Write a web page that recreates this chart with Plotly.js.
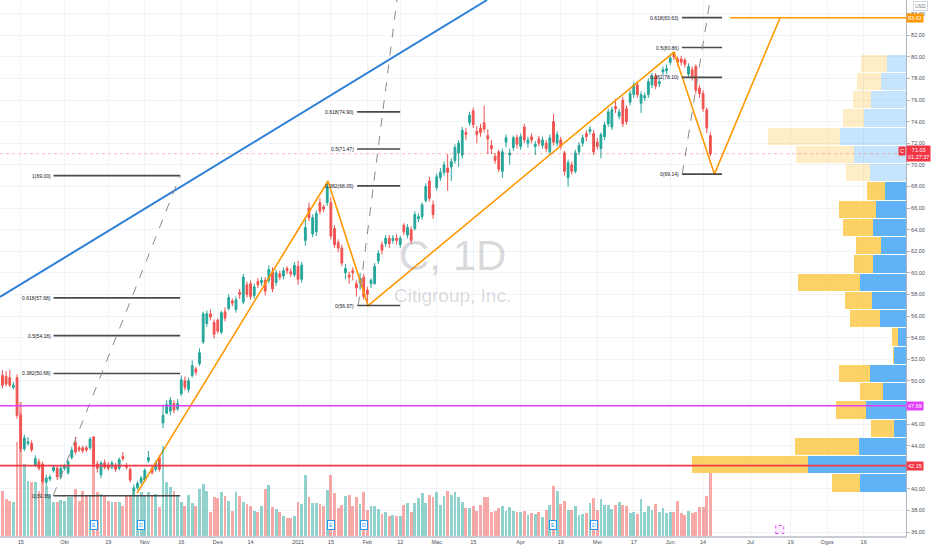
<!DOCTYPE html>
<html><head><meta charset="utf-8">
<script src="https://cdn.plot.ly/plotly-3.0.1.min.js"></script>
<style>html,body{margin:0;padding:0;background:#fff}#chart{width:932px;height:550px}</style>
</head><body><div id="chart"></div>
<script>
// Daily bars, 8 Sep 2020 .. 16 Jun 2021 (bar index = trading day)
const opens = [50.5,50.4,50.3,49.4,50.3,46.8,43.7,44.2,44.2,42.2,42.5,42.3,40.6,40.9,41.7,41.9,41.1,41.9,41.5,42.9,
44.3,43.8,43.8,43.8,43.8,44.8,42.3,41.3,42.4,42.2,42.0,42.2,41.9,43.0,42.1,41.8,39.8,40.1,40.6,40.8,
42.6,41.9,41.8,42.9,46.1,47.0,47.2,47.9,47.4,48.8,50.0,49.2,50.5,51.1,51.6,53.6,55.3,56.2,55.4,55.6,
54.5,56.4,56.7,57.4,56.6,58.2,57.3,58.9,59.0,57.9,59.2,59.1,59.3,59.3,60.1,59.1,59.9,59.7,60.4,60.1,
59.8,60.6,59.4,63.0,66.0,63.6,63.8,66.5,66.1,66.5,66.5,64.1,62.8,62.3,60.0,59.8,60.2,59.0,59.1,59.6,
58.4,59.0,59.0,61.1,62.6,62.7,63.2,63.0,63.2,62.6,64.4,63.5,64.0,64.1,65.0,65.2,66.7,68.5,66.3,67.9,
68.8,69.3,69.7,69.8,70.4,71.1,70.9,73.0,73.9,75.0,73.1,73.4,73.9,72.7,71.8,70.8,71.2,69.4,72.1,70.9,
71.6,72.5,71.7,73.5,72.0,72.6,71.7,72.4,71.8,72.0,71.2,74.0,72.0,72.3,71.1,68.8,70.0,69.4,71.2,72.0,
72.9,73.1,72.9,72.1,71.5,72.6,73.8,73.5,75.4,74.5,76.0,75.2,75.8,76.5,77.4,75.7,76.2,76.5,77.4,78.2,
77.5,78.6,78.7,79.5,80.4,79.8,79.8,79.7,78.4,78.8,79.1,77.1,76.6,75.1,72.7];
const highs = [51.0,50.9,51.0,49.9,50.6,47.0,45.0,44.8,44.5,43.1,42.8,42.5,41.3,41.3,42.2,42.1,42.1,42.3,42.7,43.9,
44.8,44.0,44.0,44.0,44.8,44.9,42.6,42.6,42.7,42.5,42.6,42.4,42.9,43.4,42.4,42.0,40.4,40.7,41.2,41.9,
43.5,42.2,42.6,43.1,47.8,48.2,48.5,48.2,48.3,50.5,50.4,50.3,51.9,51.3,53.0,56.4,56.5,56.6,55.7,55.8,
56.5,56.8,58.0,57.6,57.8,58.5,59.9,59.2,59.3,59.0,59.5,59.6,59.6,60.7,60.5,60.3,60.2,60.5,60.6,60.4,
61.0,61.1,61.0,65.1,66.5,65.4,65.8,66.9,66.3,68.4,67.0,64.4,63.1,62.6,60.8,60.1,60.5,59.3,60.0,59.9,
58.7,59.5,60.9,62.1,62.9,63.5,63.5,63.5,63.6,63.4,64.6,64.5,64.3,65.7,65.5,66.5,68.3,68.9,66.7,69.2,
69.7,70.3,71.0,70.6,71.9,72.3,73.5,73.4,74.9,75.3,73.6,73.8,75.5,73.3,72.3,71.1,71.4,71.5,72.8,71.5,
72.7,72.8,72.9,73.8,72.6,72.9,72.2,72.7,72.6,72.3,72.8,74.7,73.1,72.6,71.3,70.5,70.3,71.4,72.1,72.8,
73.2,73.6,73.2,72.5,73.0,74.0,75.2,75.4,76.1,75.2,76.3,75.5,76.9,77.7,77.7,76.8,76.7,78.0,78.5,78.5,
78.0,79.1,79.3,80.2,80.45,80.0,80.1,79.9,79.4,79.1,79.3,77.4,76.9,75.3,73.0];
const lows = [49.3,49.5,49.4,49.2,46.5,43.4,43.5,44.0,43.4,42.0,41.7,40.5,40.3,40.7,41.5,40.8,40.9,41.7,41.3,42.7,
43.2,43.4,43.3,43.4,43.6,42.0,41.5,41.0,41.8,41.7,41.8,41.6,41.7,42.6,41.8,40.6,39.36,39.9,40.4,40.6,
42.4,41.3,41.6,41.6,45.6,46.9,46.8,47.0,47.2,48.6,49.1,48.9,50.3,50.5,51.4,53.4,55.0,55.6,53.9,54.4,
54.3,55.5,56.5,56.9,56.3,57.6,57.1,57.7,57.5,57.6,58.6,58.8,57.9,59.0,58.2,58.8,59.3,59.4,59.9,59.6,
59.6,58.9,59.1,62.5,64.8,63.3,63.4,65.4,65.6,66.2,63.1,62.3,61.9,60.6,59.4,59.0,59.3,57.8,58.4,57.5,
56.97,58.6,58.9,60.8,61.7,62.4,62.3,62.7,62.6,62.3,63.5,63.2,62.7,63.9,64.7,64.9,66.5,66.6,65.0,67.6,
68.5,69.0,67.6,68.5,70.1,69.8,70.6,72.3,73.6,73.4,72.0,72.6,73.0,71.0,71.0,70.1,69.3,68.8,71.6,70.0,
71.3,71.5,71.4,72.0,71.6,72.0,70.9,71.7,71.5,71.2,70.9,71.8,71.7,71.4,69.0,68.0,69.1,69.2,70.9,71.7,
72.2,72.8,70.9,71.4,70.6,72.3,73.5,73.2,74.8,74.2,73.5,73.7,75.5,76.2,76.2,74.8,75.9,76.2,77.1,77.0,
77.2,78.3,78.4,79.2,79.7,79.2,79.2,79.0,78.1,77.8,76.6,76.2,74.9,72.9,70.8];
const closes = [49.6,49.7,49.6,49.6,46.8,43.7,44.7,44.35,43.6,42.8,41.9,40.7,41.0,41.1,42.0,41.1,41.9,42.1,42.5,43.6,
43.4,43.6,43.5,43.6,44.6,42.3,41.9,42.4,42.0,41.9,42.4,41.8,42.7,42.8,42.0,40.8,40.1,40.5,41.0,41.7,
42.9,41.5,42.4,41.8,46.8,47.8,48.2,47.3,47.9,50.1,49.4,50.0,51.4,50.8,52.6,56.2,56.2,55.9,54.3,54.6,
56.3,55.8,57.7,57.2,57.5,58.0,59.6,58.0,57.8,58.7,58.9,59.3,58.3,60.3,58.5,60.0,59.6,60.2,60.2,59.9,
60.7,59.4,60.7,64.2,65.1,65.1,65.5,65.7,65.9,68.0,63.4,62.6,62.3,60.9,60.4,59.6,60.0,58.6,59.5,57.8,
58.0,59.3,60.6,61.8,62.1,63.2,62.7,63.2,63.0,63.2,63.8,64.2,63.0,65.4,65.2,66.3,68.0,66.9,65.4,68.9,
69.3,70.0,69.3,70.3,71.6,72.0,73.2,72.8,74.6,73.7,72.8,73.0,73.3,72.4,71.5,70.4,69.6,71.2,72.5,71.1,
72.5,71.9,72.6,72.3,72.3,72.3,71.9,72.0,72.3,71.5,72.5,72.1,72.8,71.7,69.4,70.2,69.4,71.1,71.8,72.5,
72.6,73.3,71.2,71.7,72.8,73.7,74.9,75.1,75.2,74.9,73.8,74.0,76.6,77.4,76.5,76.5,76.4,77.7,78.2,77.3,
77.7,78.8,78.9,79.9,80.0,79.5,79.5,79.3,79.1,78.2,76.9,76.6,75.2,73.4,71.03];
// volume, million shares
const volumes = [45,37,35,34,94,134,72,55,54,54,45,62,50,42,34,34,36,35,39,39,
47,35,45,40,40,90,44,42,40,35,34,34,34,30,40,40,45,40,44,40,
44,41,42,29,90,54,49,45,40,34,30,41,33,30,47,52,45,24,39,38,
44,40,35,25,44,40,34,32,30,25,24,30,47,51,29,27,24,20,18,18,
20,34,32,61,39,33,33,32,30,46,61,43,28,31,40,41,30,39,32,44,
26,30,30,27,22,24,20,21,20,20,31,33,24,33,38,43,33,41,39,44,
31,40,45,41,44,39,34,28,28,30,25,31,39,39,24,25,28,30,25,29,
25,24,24,25,21,23,22,24,19,26,31,50,45,32,35,26,26,30,21,22,
23,33,38,26,37,31,31,27,31,34,31,30,23,24,22,37,24,30,26,32,
24,28,23,24,24,35,23,21,25,23,24,29,29,40,63];

const tickIdx  = [5,17,29,39,49,59,68,81,90,100,109,119,129,142,153,163,173,183,192,205,216,226,236];
const tickText = ['15','Okt','19','Nov','16','Des','14','2021','15','Feb','12','Mac','15','Apr','19','Mei','17','Jun','14','Jul','19','Ogos','16'];
// 42.00 and 48.00 sit under the red and magenta level labels
const priceTicks = [36,38,40,44,46,50,52,54,56,58,60,62,64,66,68,70,72,74,76,78,80,82,84];

// visible-range volume profile (rows top -> bottom)
const profilePrice = [79.41,77.72,76.03,74.34,72.65,70.96,69.27,67.58,65.89,64.20,62.50,60.81,59.12,57.43,55.74,54.05,52.36,50.67,48.98,47.29,45.60,43.91,42.22,40.53];
const profileUp    = [19,25,35,42,66,52,36,21,30,33,25,33,46,34,26,8,12,36,23,40,12,47,98,46];
const profileDown  = [26,24,18,21,72,58,24,18,37,30,25,19,62,27,30,6,1.5,31,23,30,23,64,116,28];
const profileInValueArea = [0,0,0,0,0,0,0,1,1,1,1,1,1,1,1,1,1,1,1,1,1,1,1,1];

// drawings (bar index, price)
const trendLine = {x:[-0.67,132.8], y:[57.76,85.26]};
const zigzag = {x:[36.9,89.2,100.2,184.0,195.1,213.1], y:[39.6,68.5,56.97,80.44,69.14,83.62]};
const fibA = {x0:14.0, x1:48.7, levels:[1,0.618,0.5,0.382,0], prices:[69.00,57.68,54.18,50.68,39.36], dash:[13.9,39.36,48.7,69.0]};
const fibB = {x0:97.2, x1:109.0, levels:[0.618,0.5,0.382,0], prices:[74.90,71.47,68.05,56.97], dash:[97.5,56.97,108.1,85.26]};
const fibC = {x0:186.2, x1:197.2, levels:[0.618,0.5,0.382,0], prices:[83.63,80.86,78.10,69.14], dash:[186.3,69.14,193.9,85.26]};
const targetLevel = {x0:199.4, price:83.62};
const magentaLevel = 47.69, redLevel = 42.15, lastPrice = 71.03;
const earningsIdx = [25,90,151], dividendIdx = [38,99,162], nextEarningsIdx = 213;

const idx = closes.map((_,i)=>i);
const UP='#26a69a', DN='#ef5350';
const volColors = closes.map((c,i)=> c>=opens[i] ? 'rgba(38,166,154,0.5)' : 'rgba(239,83,80,0.5)');

const traces = [
 {type:'bar', x:idx, y:volumes, yaxis:'y2', marker:{color:volColors, line:{width:0}}, width:0.78, hoverinfo:'skip'},
 {type:'bar', orientation:'h', x:profileUp, y:profilePrice, xaxis:'x2', width:1.6,
  marker:{color:profileInValueArea.map(v=>v?'rgba(33,150,243,0.72)':'rgba(33,150,243,0.26)'), line:{width:0}}, hoverinfo:'skip'},
 {type:'bar', orientation:'h', x:profileDown, y:profilePrice, xaxis:'x2', width:1.6,
  marker:{color:profileInValueArea.map(v=>v?'rgba(251,192,45,0.72)':'rgba(251,192,45,0.28)'), line:{width:0}}, hoverinfo:'skip'},
 {type:'candlestick', x:idx, open:opens, high:highs, low:lows, close:closes,
  increasing:{line:{color:UP,width:1}, fillcolor:UP}, decreasing:{line:{color:DN,width:1}, fillcolor:DN},
  whiskerwidth:0, hoverinfo:'skip'},
 {type:'scatter', mode:'lines', x:zigzag.x, y:zigzag.y, line:{color:'#ff9800', width:1.6}, hoverinfo:'skip'}
];

const shapes = [];
const annotations = [];
const line = (x0,y0,x1,y1,color,width,dash)=>shapes.push({type:'line',xref:'x',yref:'y',x0,y0,x1,y1,line:{color,width,dash:dash||'solid'},layer:'above'});

line(-0.67,lastPrice,247.6,lastPrice,'rgba(242,54,69,0.35)',1,'dot');
line(trendLine.x[0],trendLine.y[0],trendLine.x[1],trendLine.y[1],'#2b7fd6',2);
[fibA,fibB,fibC].forEach(f=>{
  f.levels.forEach((lv,k)=>{
    line(f.x0,f.prices[k],f.x1,f.prices[k],'#4a4a4a',1.6);
    annotations.push({xref:'x',yref:'y',x:f.x0,y:f.prices[k],xanchor:'right',yanchor:'middle',xshift:-1,
      text:lv+'('+f.prices[k].toFixed(2)+')',showarrow:false,font:{size:5,color:'#131722',family:'Liberation Sans, Arial'}});
  });
  line(f.dash[0],f.dash[1],f.dash[2],f.dash[3],'#8a8a8a',1,'dash');
});
line(targetLevel.x0,targetLevel.price,247.6,targetLevel.price,'#ff9800',1.6);
line(-0.67,magentaLevel,247.6,magentaLevel,'#e040fb',1.4);
line(-0.67,redLevel,247.6,redLevel,'#f23645',1.8);

// price-axis labels
const axLabel=(price,text,bg,extra)=>annotations.push(Object.assign({xref:'paper',yref:'y',x:1,y:price,xanchor:'left',yanchor:'middle',
  text,showarrow:false,bgcolor:bg,borderpad:1,font:{size:5.5,color:'#ffffff',family:'Liberation Sans, Arial'}},extra||{}));
axLabel(targetLevel.price,'83.62','#ff9800');
axLabel(lastPrice,'71.03<br>01:27:37','#f23645');
axLabel(magentaLevel,'47.69','#e040fb');
axLabel(redLevel,'42.15','#f23645');
annotations.push({xref:'paper',yref:'y',x:1,y:lastPrice+0.25,xanchor:'right',yanchor:'middle',text:'C',showarrow:false,
  bgcolor:'#f23645',borderpad:1,font:{size:5.5,color:'#fff',family:'Liberation Sans, Arial'}});
annotations.push({xref:'paper',yref:'paper',x:1.008,y:0.988,xanchor:'left',yanchor:'middle',text:'USD',showarrow:false,
  bordercolor:'#d1d4dc',borderwidth:1,borderpad:1,bgcolor:'#fff',font:{size:5,color:'#787b86',family:'Liberation Sans, Arial'}});

// watermark
annotations.push({xref:'paper',yref:'paper',x:0.499,y:0.524,text:'C, 1D',showarrow:false,
  font:{size:42,color:'rgba(120,123,134,0.28)',family:'Liberation Sans, Arial'}});
annotations.push({xref:'paper',yref:'paper',x:0.499,y:0.448,text:'Citigroup, Inc.',showarrow:false,
  font:{size:19,color:'rgba(120,123,134,0.28)',family:'Liberation Sans, Arial'}});

// events
const icon=(i,t)=>annotations.push({xref:'x',yref:'paper',x:i,y:0.012,text:t,showarrow:false,bgcolor:'#ffffff',
  bordercolor:'#2196f3',borderwidth:1,borderpad:1,font:{size:5,color:'#2196f3',family:'Liberation Sans, Arial'}});
earningsIdx.forEach(i=>icon(i,'E'));
dividendIdx.forEach(i=>icon(i,'D'));
shapes.push({type:'rect',xref:'x',yref:'paper',xsizemode:'pixel',ysizemode:'pixel',xanchor:nextEarningsIdx,yanchor:0.012,
  x0:-4,x1:4,y0:-4,y1:4,line:{color:'#e040fb',width:1,dash:'dot'},fillcolor:'rgba(224,64,251,0.08)'});

const layout = {
  width:932, height:550, margin:{l:0,r:26,t:0,b:14},
  paper_bgcolor:'#ffffff', plot_bgcolor:'#ffffff',
  showlegend:false, barmode:'stack', hovermode:false, dragmode:false,
  xaxis:{range:[-0.67,247.6], tickvals:tickIdx, ticktext:tickText, showgrid:true, gridcolor:'#f0f3fa',
    zeroline:false, showline:true, linecolor:'#c9ccd4', linewidth:1.5, ticks:'', rangeslider:{visible:false},
    tickfont:{size:5.5,color:'#4a4e59',family:'Liberation Sans, Arial'}, fixedrange:true},
  xaxis2:{overlaying:'x', range:[906,0], visible:false, fixedrange:true},
  yaxis:{side:'right', range:[35.63,85.26], tickvals:priceTicks, tickformat:'.2f', showgrid:true, gridcolor:'#f0f3fa',
    zeroline:false, showline:true, linecolor:'#b2b5be', ticks:'outside', ticklen:3, tickcolor:'#b2b5be',
    tickfont:{size:5.5,color:'#4a4e59',family:'Liberation Sans, Arial'}, fixedrange:true},
  yaxis2:{overlaying:'y', range:[0,536], visible:false, fixedrange:true},
  shapes, annotations
};
Plotly.newPlot('chart', traces, layout, {staticPlot:true, displayModeBar:false});
</script></body></html>
